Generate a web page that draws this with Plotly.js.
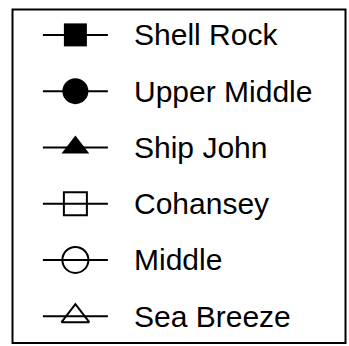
<!DOCTYPE html>
<html>
<head>
<meta charset="utf-8">
<script src="https://cdn.plot.ly/plotly-3.0.1.min.js"></script>
<style>
  html, body { margin: 0; padding: 0; background: #fff; }
  #chart { width: 349px; height: 346px; }
</style>
</head>
<body>
<div id="chart"></div>
<script>
// legend entries, top to bottom
const seriesNames = ['Shell Rock', 'Upper Middle', 'Ship John', 'Cohansey', 'Middle', 'Sea Breeze'];
const seriesSymbols = ['square', 'circle', 'triangle-up', 'square-open', 'circle-open', 'triangle-up-open'];
const symbolSizes = [23, 26, 24, 23, 26, 24];

// each sample: a short line, marker sits in its middle
const lineX = [-1, 1];
const markX = [0];

const traces = [];
seriesNames.forEach((name, i) => {
    traces.push({
        x: lineX,
        y: lineX.map(() => i),
        mode: 'lines',
        type: 'scatter',
        hoverinfo: 'skip',
        line: { color: 'black', width: 2 }
    });
    const open = seriesSymbols[i].endsWith('-open');
    traces.push({
        x: markX,
        y: markX.map(() => i),
        mode: 'markers',
        type: 'scatter',
        name: name,
        hoverinfo: 'skip',
        marker: {
            symbol: seriesSymbols[i],
            size: symbolSizes[i],
            color: 'black',
            opacity: 1,
            line: { color: 'black', width: open ? 2 : 0 }
        }
    });
});

// labels to the right of each sample
const annotations = seriesNames.map((name, i) => ({
    x: 1.75,
    y: i,
    text: name,
    xanchor: 'left',
    yanchor: 'middle',
    showarrow: false,
    font: { family: 'Liberation Sans, Arial, sans-serif', size: 30, color: 'black' }
}));

const layout = {
    width: 349,
    height: 346,
    margin: { l: 0, r: 0, t: 0, b: 0 },
    paper_bgcolor: 'white',
    plot_bgcolor: 'white',
    showlegend: false,
    xaxis: { range: [-2.32, 8.42], visible: false, fixedrange: true },
    yaxis: { range: [5.53, -0.62], visible: false, fixedrange: true },
    annotations: annotations,
    shapes: [{
        type: 'rect',
        xref: 'paper', yref: 'paper',
        x0: 12.5 / 349, x1: 345.5 / 349,
        y0: 1 - 343 / 346, y1: 1 - 9.5 / 346,
        line: { color: 'black', width: 2 }
    }]
};

Plotly.newPlot('chart', traces, layout, { displayModeBar: false, staticPlot: true });
</script>
</body>
</html>
